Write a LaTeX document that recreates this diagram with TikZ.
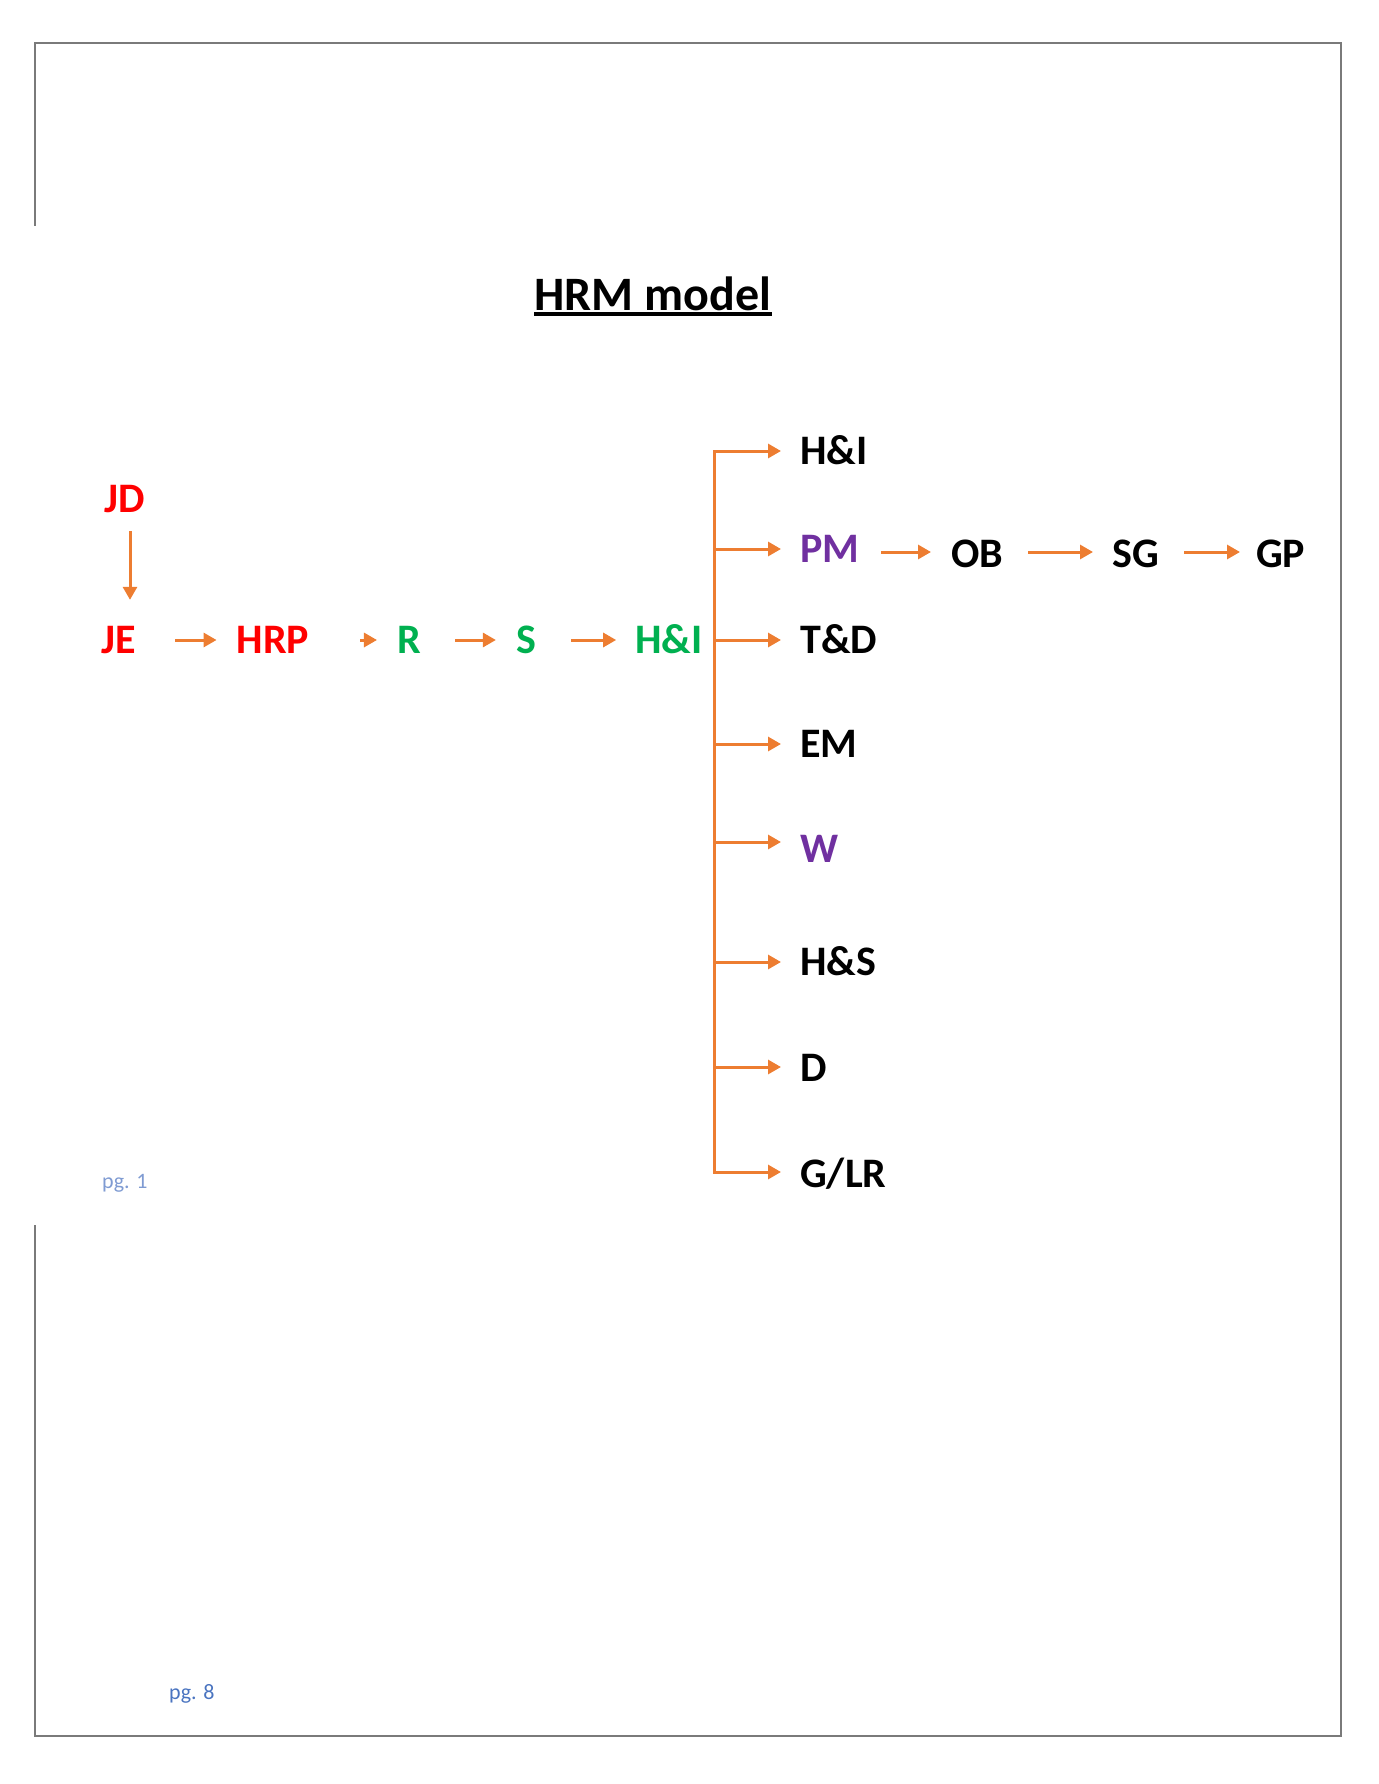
\documentclass[tikz,border=0pt]{standalone}
\usepackage{fontspec}
\setmainfont{Carlito}
\usetikzlibrary{arrows.meta}
\definecolor{arrorange}{HTML}{ED7D31}
\definecolor{lblred}{HTML}{FF0000}
\definecolor{lblgreen}{HTML}{00B050}
\definecolor{lblpurple}{HTML}{7030A0}
\definecolor{framegray}{HTML}{7A7A7A}
\definecolor{pgblue}{HTML}{4A74C0}
\definecolor{pgbluelight}{HTML}{7F9BD2}
\begin{document}
\begin{tikzpicture}[x=1pt,y=-1pt,
  lbl/.style={font=\fontsize{42}{50}\selectfont\bfseries, inner sep=0pt, text height=27pt, text depth=0pt},
  flow/.style={draw=arrorange, line width=3pt, -{Triangle[length=13pt,width=14pt]}},
  trunkline/.style={draw=arrorange, line width=3pt},
  pageframe/.style={draw=framegray, line width=2.5pt},
  pgnum/.style={font=\fontsize{22}{26}\selectfont, inner sep=0pt, anchor=base west}
]
\useasboundingbox (0,0) rectangle (1378,1784);

% page frame
\draw[pageframe] (35,226) -- (35,43) -- (1341,43) -- (1341,1736) -- (35,1736) -- (35,1225);

% title
\node[font=\fontsize{48}{58}\selectfont\bfseries, inner sep=0pt, anchor=base] (ttl) at (653,310) {HRM model};
\draw[line width=4pt] ([yshift=-4pt]ttl.base west) -- ([yshift=-4pt]ttl.base east);

% left chain
\node[lbl, text=lblred, anchor=base] (JD) at (125,512.5) {JD};
\node[lbl, text=lblred, anchor=base] (JE) at (119,653.5) {JE};
\node[lbl, text=lblred, anchor=base] (HRP) at (273,653.5) {HRP};
\node[lbl, text=lblgreen, anchor=base] (R) at (409,653.5) {R};
\node[lbl, text=lblgreen, anchor=base] (S) at (526,653.5) {S};
\node[lbl, text=lblgreen, anchor=base] (HI) at (669,653.5) {H\&I};

\draw[flow, shorten <=18.5pt, shorten >=26.5pt] ([xshift=5pt]JD.south) -- ([xshift=5pt]JD.south |- JE.north);
\draw[flow, shorten <=39pt, shorten >=20pt] (JE.east) -- (HRP.west);
\draw[flow, shorten <=51pt, shorten >=20pt] (HRP.east) -- (R.west);
\draw[flow, shorten <=34pt, shorten >=20pt] (R.east) -- (S.west);
\draw[flow, shorten <=35pt, shorten >=19pt] (S.east) -- (HI.west);

% right branches
\node[lbl, anchor=base west] (t1) at (800,464.5) {H\&I};
\node[lbl, text=lblpurple, anchor=base west] (t2) at (800,562.5) {PM};
\node[lbl, anchor=base west] (t3) at (800,653.5) {T\&D};
\node[lbl, anchor=base west] (t4) at (800,757.5) {EM};
\node[lbl, text=lblpurple, anchor=base west] (t5) at (800,862.5) {W};
\node[lbl, anchor=base west] (t6) at (800,975.5) {H\&S};
\node[lbl, anchor=base west] (t7) at (800,1081.5) {D};
\node[lbl, anchor=base west] (t8) at (800,1187) {G/LR};

\coordinate (trunk) at (714,640);
\coordinate (b1) at (714,451);
\coordinate (b2) at (714,549);
\coordinate (b3) at (714,640);
\coordinate (b4) at (714,744);
\coordinate (b5) at (714,842);
\coordinate (b6) at (714,962);
\coordinate (b7) at (714,1067);
\coordinate (b8) at (714,1172);
\draw[trunkline, {Triangle[length=13pt,width=14pt]}-{Triangle[length=13pt,width=14pt]}, shorten <=19pt, shorten >=19pt]
  (t1.west |- b1) -- (b1) -- (b8) -- (t8.west |- b8);
\foreach \i in {2,...,7}{
  \draw[flow, shorten >=19pt] (b\i) -- (t\i.west |- b\i);
}

% PM chain
\node[lbl, anchor=base west] (OB) at (951,567) {OB};
\node[lbl, anchor=base west] (SG) at (1112,567) {SG};
\node[lbl, anchor=base west] (GP) at (1256,567) {GP};
\draw[flow, shorten <=22pt, shorten >=20pt] (t2.east |- b2) ++(0,3) -- (OB.west |- 0,552);
\draw[flow, shorten <=25pt, shorten >=19pt] (OB.east |- 0,552) -- (SG.west |- 0,552);
\draw[flow, shorten <=25pt, shorten >=16pt] (SG.east |- 0,552) -- (GP.west |- 0,552);

% page numbers
\node[pgnum, text=pgbluelight] (pg1) at (102,1188) {pg. 1};
\node[pgnum, text=pgblue] (pg8) at (169,1699) {pg. 8};
\end{tikzpicture}
\end{document}
